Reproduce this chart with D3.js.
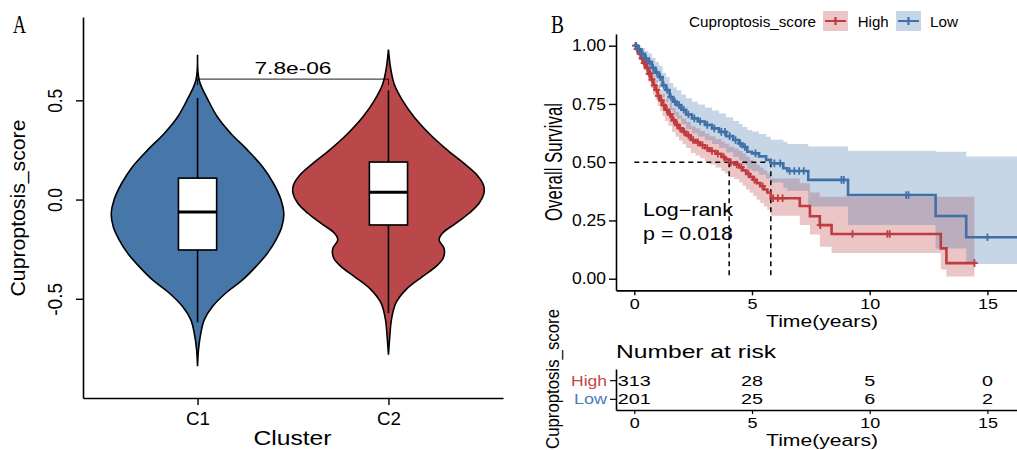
<!DOCTYPE html>
<html>
<head>
<meta charset="utf-8">
<script src="https://cdn.jsdelivr.net/npm/d3@7"></script>
<style>
  body { margin: 0; background: #fff; }
  svg { display: block; }
  text { font-family: "Liberation Sans", Arial, sans-serif; fill: #000; }
</style>
</head>
<body>
<svg id="chart" width="1017" height="450"></svg>
<script>
// ---------------- Panel A: Cuproptosis score by cluster ----------------
const clusters = ["C1", "C2"];
const pValueLabel = "7.8e-06";
const scoreTicks = [-0.5, 0, 0.5];

// kernel density outlines (score, relative density)
const c1Score   = [0.730, 0.600, 0.500, 0.416, 0.333, 0.249, 0.165, 0.081, -0.003, -0.069, -0.137, -0.204, -0.270, -0.338, -0.405, -0.471, -0.539, -0.606, -0.672, -0.756, -0.840];
const c1Density = [0.000, 0.018, 0.112, 0.209, 0.349, 0.524, 0.681, 0.796, 0.876, 0.904, 0.883, 0.820, 0.733, 0.611, 0.471, 0.297, 0.157, 0.070, 0.035, 0.010, 0.000];
const c2Score   = [0.756, 0.667, 0.584, 0.500, 0.416, 0.333, 0.249, 0.182, 0.131, 0.073, 0.031, -0.019, -0.069, -0.120, -0.170, -0.204, -0.246, -0.296, -0.338, -0.388, -0.455, -0.522, -0.606, -0.690, -0.782];
const c2Density = [0.000, 0.021, 0.059, 0.147, 0.269, 0.426, 0.618, 0.792, 0.914, 0.995, 1.000, 0.950, 0.845, 0.705, 0.565, 0.531, 0.583, 0.573, 0.496, 0.356, 0.181, 0.077, 0.031, 0.014, 0.000];

// box plot statistics per cluster
const whiskerLow  = [-0.619, -0.572];
const quartile1   = [-0.254, -0.128];
const medians     = [-0.063, 0.037];
const quartile3   = [0.108, 0.189];
const whiskerHigh = [0.512, 0.550];
const bracketLevel = 0.607;

// ---------------- Panel B: Kaplan-Meier by score group ----------------
const groups = ["High", "Low"];
const highTime  = [0, 0.1, 0.2, 0.3, 0.4, 0.5, 0.6, 0.7, 0.8, 0.9, 1.0, 1.1, 1.2, 1.3, 1.45, 1.6, 1.75, 1.9, 2.05, 2.2, 2.4, 2.6, 2.8, 3.0, 3.2, 3.45, 3.7, 3.85, 4.03, 4.25, 4.45, 4.6, 4.75, 4.9, 5.05, 5.2, 5.35, 5.5, 5.65, 5.8, 7.03, 7.46, 7.88, 8.38, 13.02, 13.26];
const highSurv  = [1, 0.985, 0.965, 0.945, 0.925, 0.905, 0.88, 0.855, 0.83, 0.81, 0.785, 0.765, 0.745, 0.725, 0.705, 0.68, 0.66, 0.645, 0.63, 0.615, 0.595, 0.585, 0.573, 0.56, 0.548, 0.536, 0.522, 0.512, 0.498, 0.49, 0.478, 0.465, 0.45, 0.437, 0.425, 0.41, 0.397, 0.383, 0.37, 0.345, 0.312, 0.268, 0.23, 0.192, 0.13, 0.067];
const highLower = [1, 0.97, 0.945, 0.92, 0.895, 0.872, 0.845, 0.818, 0.79, 0.768, 0.741, 0.72, 0.698, 0.677, 0.656, 0.63, 0.609, 0.593, 0.577, 0.561, 0.54, 0.529, 0.517, 0.503, 0.49, 0.477, 0.462, 0.451, 0.436, 0.427, 0.413, 0.399, 0.383, 0.369, 0.355, 0.339, 0.325, 0.31, 0.296, 0.27, 0.23, 0.19, 0.137, 0.11, 0.04, 0.009];
const highUpper = [1, 1, 0.985, 0.97, 0.955, 0.94, 0.915, 0.893, 0.87, 0.852, 0.83, 0.812, 0.793, 0.775, 0.756, 0.733, 0.714, 0.7, 0.686, 0.672, 0.654, 0.645, 0.634, 0.622, 0.611, 0.6, 0.588, 0.579, 0.566, 0.559, 0.548, 0.537, 0.523, 0.511, 0.5, 0.487, 0.476, 0.464, 0.452, 0.43, 0.41, 0.37, 0.352, 0.352, 0.352, 0.352];
const highLastTime = 14.45;
const highCensor = [0.05, 0.12, 0.18, 0.25, 0.33, 0.42, 0.48, 0.55, 0.63, 0.68, 0.75, 0.85, 0.95, 1.02, 1.15, 1.25, 1.38, 1.52, 1.68, 1.82, 1.95, 2.12, 2.3, 2.5, 2.7, 2.9, 3.1, 3.3, 3.55, 3.8, 4.1, 4.35, 4.55, 4.85, 5.1, 5.45, 5.9, 6.1, 6.3, 7.9, 9.27, 10.75, 10.85, 14.45];

const lowTime  = [0, 0.15, 0.3, 0.45, 0.6, 0.75, 0.9, 1.05, 1.2, 1.35, 1.5, 1.65, 1.8, 2.0, 2.2, 2.45, 2.7, 3.0, 3.3, 3.6, 3.9, 4.2, 4.45, 4.6, 4.8, 5.0, 5.3, 5.6, 5.8, 6.33, 6.5, 7.39, 9.08, 12.8, 14.1];
const lowSurv  = [1, 0.985, 0.965, 0.945, 0.93, 0.905, 0.885, 0.865, 0.83, 0.81, 0.78, 0.76, 0.745, 0.725, 0.705, 0.688, 0.675, 0.66, 0.645, 0.63, 0.612, 0.595, 0.58, 0.565, 0.545, 0.538, 0.525, 0.51, 0.495, 0.474, 0.462, 0.424, 0.359, 0.269, 0.178];
const lowLower = [1, 0.968, 0.94, 0.914, 0.895, 0.865, 0.842, 0.818, 0.779, 0.757, 0.724, 0.702, 0.686, 0.664, 0.642, 0.624, 0.61, 0.594, 0.578, 0.561, 0.542, 0.523, 0.507, 0.49, 0.469, 0.461, 0.446, 0.43, 0.413, 0.39, 0.377, 0.31, 0.23, 0.13, 0.063];
const lowUpper = [1, 1, 0.99, 0.977, 0.966, 0.947, 0.93, 0.914, 0.884, 0.866, 0.84, 0.822, 0.809, 0.791, 0.774, 0.759, 0.748, 0.735, 0.722, 0.709, 0.693, 0.677, 0.664, 0.651, 0.638, 0.632, 0.621, 0.609, 0.596, 0.588, 0.578, 0.567, 0.549, 0.545, 0.524];
const lowLastTime = 16.5;
const lowCensor = [0.08, 0.2, 0.35, 0.5, 0.65, 0.8, 0.95, 1.1, 1.25, 1.4, 1.55, 1.72, 1.9, 2.1, 2.3, 2.55, 2.8, 3.1, 3.4, 3.7, 3.85, 4.05, 4.3, 4.5, 4.7, 5.15, 5.95, 6.2, 6.6, 6.8, 7.0, 7.2, 8.8, 8.9, 11.55, 11.65, 15.0];

const survivalTicks = [0, 0.25, 0.5, 0.75, 1];
const timeTicks = [0, 5, 10, 15];
const riskHigh = [313, 28, 5, 0];
const riskLow  = [201, 25, 6, 2];
const logRankLines = ["Log\u2212rank", "p = 0.018"];

// ---------------- styles ----------------
const violinFill = { C1: "#4677A8", C2: "#BA4749" };
const groupLine = { High: "#BF3B3E", Low: "#3F70A8" };
const groupText = { High: "#C4474C", Low: "#4A7BB8" };
const serif = "'Liberation Serif', 'DejaVu Serif', serif";

const svg = d3.select("#chart");

function label(parent, str, o) {
  const t = parent.append("text").text(str)
    .attr("font-size", o.size)
    .attr("text-anchor", o.anchor || "start")
    .attr("transform", `translate(${o.x},${o.y})` + (o.rot ? ` rotate(${o.rot})` : ""));
  if (o.len) t.attr("textLength", o.len).attr("lengthAdjust", "spacingAndGlyphs");
  if (o.family) t.style("font-family", o.family);
  if (o.fill) t.style("fill", o.fill);
  return t;
}

// ======================= Panel A =======================
const gA = svg.append("g");
const xA = d3.scalePoint().domain(clusters).range([83, 503]).padding(0.6);
const yA = d3.scaleLinear().domain([-1, 0.92]).range([398, 17]);
const halfWidth = d => d * xA.step() * 0.5;

const violinData = [
  { name: "C1", score: c1Score, dens: c1Density },
  { name: "C2", score: c2Score, dens: c2Density }
];

violinData.forEach(v => {
  const cx = xA(v.name);
  const pts = v.score.map((s, i) => ({ s, d: v.dens[i] }));
  const area = d3.area()
    .curve(d3.curveCatmullRom.alpha(0.5))
    .y(p => yA(p.s))
    .x0(p => cx - halfWidth(p.d))
    .x1(p => cx + halfWidth(p.d));
  gA.append("path").attr("d", area(pts))
    .attr("fill", violinFill[v.name]).attr("stroke", "#000").attr("stroke-width", 1.6);
});

// significance bracket
const bracketY = yA(bracketLevel);
gA.append("path")
  .attr("d", `M${xA("C1")},${bracketY + 6}V${bracketY}H${xA("C2")}V${bracketY + 6}`)
  .attr("fill", "none").attr("stroke", "#000").attr("stroke-width", 0.9);

clusters.forEach((c, i) => {
  const cx = xA(c), bw = xA.step() * 0.2;
  gA.append("line").attr("x1", cx).attr("x2", cx)
    .attr("y1", yA(whiskerHigh[i])).attr("y2", yA(whiskerLow[i]))
    .attr("stroke", "#000").attr("stroke-width", 1.6);
  gA.append("rect").attr("x", cx - bw / 2).attr("width", bw)
    .attr("y", yA(quartile3[i])).attr("height", yA(quartile1[i]) - yA(quartile3[i]))
    .attr("fill", "#fff").attr("stroke", "#000").attr("stroke-width", 1.6);
  gA.append("line").attr("x1", cx - bw / 2).attr("x2", cx + bw / 2)
    .attr("y1", yA(medians[i])).attr("y2", yA(medians[i]))
    .attr("stroke", "#000").attr("stroke-width", 3);
});

label(gA, pValueLabel, { x: (xA("C1") + xA("C2")) / 2, y: 74, size: 17, len: 77, anchor: "middle" });

// axes
const axA_y = gA.append("g").attr("transform", "translate(83,0)")
  .call(d3.axisLeft(yA).tickValues(scoreTicks).tickSize(7).tickSizeOuter(0).tickFormat(d => d.toFixed(1)));
axA_y.select(".domain").attr("stroke-width", 1.6);
axA_y.selectAll(".tick line").attr("stroke-width", 1.4);
axA_y.selectAll(".tick text")
  .attr("x", null).attr("dy", null).attr("y", null)
  .attr("text-anchor", "middle").attr("font-size", 21)
  .attr("transform", "translate(-21,0) rotate(-90)")
  .attr("textLength", d => d < 0 ? 33 : 24).attr("lengthAdjust", "spacingAndGlyphs");

const axA_x = gA.append("g").attr("transform", "translate(0,398)")
  .call(d3.axisBottom(xA).tickSize(7).tickSizeOuter(0));
axA_x.select(".domain").attr("stroke-width", 1.6);
axA_x.selectAll(".tick line").attr("stroke-width", 1.4);
axA_x.selectAll(".tick text").attr("dy", null).attr("y", 27)
  .attr("font-size", 18.5).attr("textLength", 24).attr("lengthAdjust", "spacingAndGlyphs");
svg.selectAll(".tick text").style("fill", "#000");

label(gA, "Cuproptosis_score", { x: 25, y: 208, size: 21, len: 177, anchor: "middle", rot: -90 });
label(gA, "Cluster", { x: 292.5, y: 444.5, size: 20, len: 78, anchor: "middle" });
label(gA, "A", { x: 13, y: 33, size: 26, len: 13, family: serif });

// ======================= Panel B =======================
const gB = svg.append("g");
const xK = d3.scaleLinear().domain([-0.777, 16.3]).range([616, 1018]);
const yK = d3.scaleLinear().domain([-0.05, 1.05]).range([290.35, 34.05]);

const kmData = [
  { name: "High", time: highTime, surv: highSurv, lo: highLower, hi: highUpper, last: highLastTime, censor: highCensor },
  { name: "Low",  time: lowTime,  surv: lowSurv,  lo: lowLower,  hi: lowUpper,  last: lowLastTime,  censor: lowCensor }
];
kmData.forEach(g => {
  g.pts = g.time.map((t, i) => ({ t, s: g.surv[i], lo: g.lo[i], hi: g.hi[i] }));
  const lastP = g.pts[g.pts.length - 1];
  g.pts.push({ t: g.last, s: lastP.s, lo: lastP.lo, hi: lastP.hi });
  g.at = t => g.surv[d3.bisectRight(g.time, t) - 1];
  g.median = g.time[g.surv.findIndex(s => s <= 0.5)];
});

const clipB = svg.append("defs").append("clipPath").attr("id", "kmclip");
clipB.append("rect").attr("x", 616).attr("y", 30).attr("width", 401).attr("height", 262);
const plotB = gB.append("g").attr("clip-path", "url(#kmclip)");

// confidence bands
kmData.forEach(g => {
  const band = d3.area().curve(d3.curveStepAfter)
    .x(p => xK(p.t)).y0(p => yK(p.lo)).y1(p => yK(p.hi));
  plotB.append("path").attr("d", band(g.pts))
    .attr("fill", groupLine[g.name]).attr("fill-opacity", 0.29);
});

// median reference lines
const medHigh = kmData[0].median, medLow = kmData[1].median;
const dash = { stroke: "#000", "stroke-width": 1.5, "stroke-dasharray": "5,4" };
function dashed(x1, y1, x2, y2) {
  const l = plotB.append("line").attr("x1", x1).attr("y1", y1).attr("x2", x2).attr("y2", y2).attr("fill", "none");
  Object.entries(dash).forEach(([k, v]) => l.attr(k, v));
}
dashed(xK(0), yK(0.5), xK(Math.max(medHigh, medLow)), yK(0.5));
dashed(xK(medHigh), yK(0.5), xK(medHigh), yK(0));
dashed(xK(medLow), yK(0.5), xK(medLow), yK(0));

// survival curves and censor marks
kmData.forEach(g => {
  const line = d3.line().curve(d3.curveStepAfter).x(p => xK(p.t)).y(p => yK(p.s));
  plotB.append("path").attr("d", line(g.pts))
    .attr("fill", "none").attr("stroke", groupLine[g.name]).attr("stroke-width", 2.6);
  const cg = plotB.append("g").attr("stroke", groupLine[g.name]).attr("stroke-width", 1.8);
  g.censor.forEach(t => {
    const cx = xK(t), cy = yK(g.at(t));
    cg.append("path").attr("d", `M${cx - 3.5},${cy}H${cx + 3.5}M${cx},${cy - 3.8}V${cy + 3.8}`);
  });
});

// log-rank annotation
label(gB, logRankLines[0], { x: 643, y: 216, size: 17.7, len: 90 });
label(gB, logRankLines[1], { x: 643, y: 239.5, size: 17.7, len: 90 });

// axes
const axB_y = gB.append("g").attr("transform", "translate(616,0)")
  .call(d3.axisLeft(yK).tickValues(survivalTicks).tickSize(7).tickSizeOuter(0).tickFormat(d3.format(".2f")));
axB_y.select(".domain").attr("stroke-width", 1.6);
axB_y.selectAll(".tick line").attr("stroke-width", 1.4);
axB_y.selectAll(".tick text").attr("font-size", 16).attr("textLength", 34).attr("lengthAdjust", "spacingAndGlyphs");

const axB_x = gB.append("g").attr("transform", "translate(0,290.35)")
  .call(d3.axisBottom(xK).tickValues(timeTicks).tickSize(5).tickSizeOuter(0));
axB_x.select(".domain").attr("stroke-width", 1.6);
axB_x.selectAll(".tick line").attr("stroke-width", 1.4);
axB_x.selectAll(".tick text").attr("dy", null).attr("y", 18.5).attr("font-size", 15.4)
  .attr("textLength", d => String(d).length * 10).attr("lengthAdjust", "spacingAndGlyphs");

label(gB, "Overall Survival", { x: 561.5, y: 162, size: 23, len: 118, anchor: "middle", rot: -90 });
label(gB, "Time(years)", { x: 822, y: 326.5, size: 16.3, len: 112, anchor: "middle" });
label(gB, "B", { x: 551, y: 33, size: 26, len: 13, family: serif });

// legend
const legend = gB.append("g");
label(legend, "Cuproptosis_score", { x: 689, y: 26.7, size: 14, len: 127 });
const legendKeys = [
  { name: "High", kx: 823, tx: 857.7, tl: 31 },
  { name: "Low",  kx: 896, tx: 930,   tl: 28 }
];
legendKeys.forEach(k => {
  legend.append("rect").attr("x", k.kx).attr("y", 11).attr("width", 25).attr("height", 20)
    .attr("fill", groupLine[k.name]).attr("fill-opacity", 0.29);
  legend.append("path").attr("d", `M${k.kx + 2},21H${k.kx + 23}M${k.kx + 12.5},17V25`)
    .attr("stroke", groupLine[k.name]).attr("stroke-width", 2.2).attr("fill", "none");
  label(legend, k.name, { x: k.tx, y: 26.7, size: 14, len: k.tl });
});

// ======================= Risk table =======================
const gR = svg.append("g");
const yR = d3.scalePoint().domain(groups).range([369, 410]).padding(0.6);
label(gR, "Number at risk", { x: 616, y: 358.3, size: 18.6, len: 160 });

const riskRows = [{ name: "High", counts: riskHigh }, { name: "Low", counts: riskLow }];
riskRows.forEach(r => {
  r.counts.forEach((n, i) => {
    label(gR, String(n), { x: xK(timeTicks[i]), y: yR(r.name) + 5.5, size: 14, len: String(n).length * 11, anchor: "middle" });
  });
});

const axR_y = gR.append("g").attr("transform", "translate(616,0)")
  .call(d3.axisLeft(yR).tickSize(6).tickSizeOuter(0));
axR_y.select(".domain").attr("stroke-width", 1.6);
axR_y.selectAll(".tick line").attr("stroke-width", 1.2);
axR_y.selectAll(".tick text").attr("font-size", 14).attr("dy", "0.36em")
  .attr("textLength", d => d === "High" ? 36 : 33).attr("lengthAdjust", "spacingAndGlyphs")
  .style("fill", d => groupText[d]);

const axR_x = gR.append("g").attr("transform", "translate(0,410)")
  .call(d3.axisBottom(xK).tickValues(timeTicks).tickSize(4).tickSizeOuter(0));
axR_x.select(".domain").attr("stroke-width", 1.6);
axR_x.selectAll(".tick line").attr("stroke-width", 1.2);
axR_x.selectAll(".tick text").attr("dy", null).attr("y", 18.3).attr("font-size", 15.4)
  .attr("textLength", d => String(d).length * 10).attr("lengthAdjust", "spacingAndGlyphs")
  .style("fill", "#000");

label(gR, "Time(years)", { x: 822, y: 445.5, size: 16.3, len: 112, anchor: "middle" });
label(gR, "Cuproptosis_score", { x: 559, y: 379, size: 19, len: 140, anchor: "middle", rot: -90 });
</script>
</body>
</html>
